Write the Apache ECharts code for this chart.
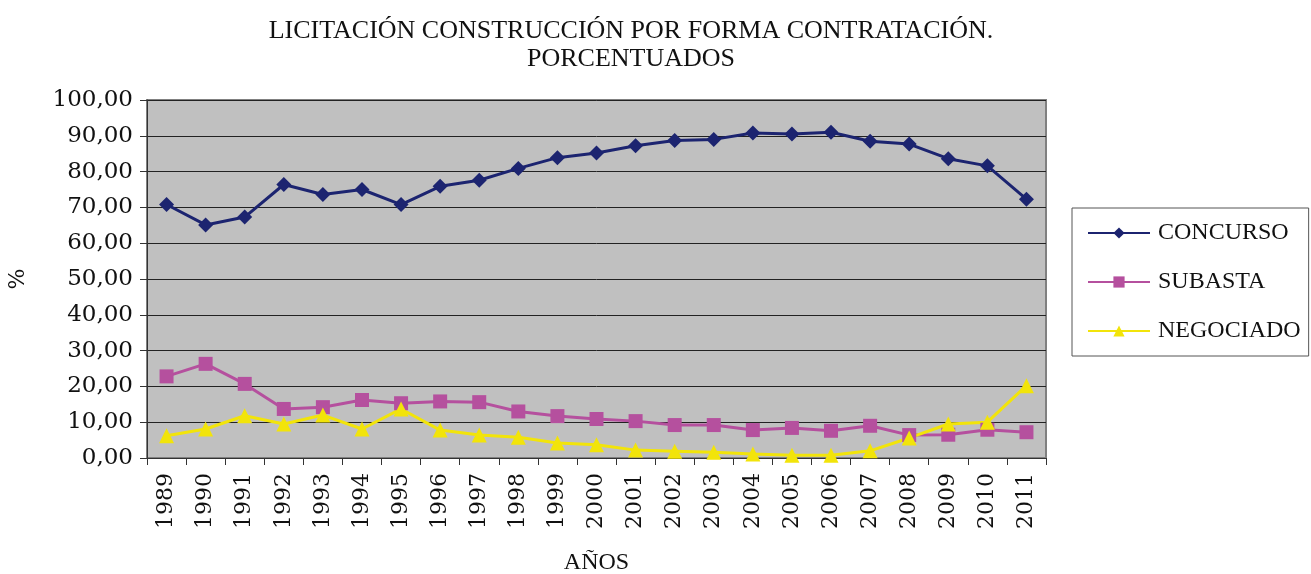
<!DOCTYPE html>
<html>
<head>
<meta charset="utf-8">
<script src="https://cdn.jsdelivr.net/npm/echarts@6/dist/echarts.min.js"></script>
<style>
  html, body { margin: 0; padding: 0; background: #fff; }
  #main { width: 1311px; height: 574px; }
</style>
</head>
<body>
<div id="main"></div>
<script>
var years = ['1989', '1990', '1991', '1992', '1993', '1994', '1995', '1996', '1997', '1998', '1999', '2000',
  '2001', '2002', '2003', '2004', '2005', '2006', '2007', '2008', '2009', '2010', '2011'];
var concurso = [70.8, 65.1, 67.3, 76.4, 73.6, 75.0, 70.8, 75.9, 77.6, 80.9, 83.9, 85.2,
  87.2, 88.7, 89.0, 90.8, 90.5, 91.0, 88.5, 87.7, 83.6, 81.6, 72.3];
var subasta = [22.8, 26.3, 20.7, 13.7, 14.2, 16.2, 15.3, 15.8, 15.6, 13.0, 11.7, 10.9,
  10.3, 9.2, 9.2, 7.8, 8.4, 7.6, 9.0, 6.4, 6.5, 7.9, 7.2];
var negociado = [6.2, 8.1, 11.8, 9.5, 12.0, 8.1, 13.7, 7.8, 6.4, 5.8, 4.2, 3.7,
  2.2, 1.9, 1.6, 1.1, 0.8, 0.8, 2.0, 5.6, 9.5, 10.0, 20.2];

var serif = '"Liberation Serif", "DejaVu Serif", serif';
var numFont = '"DejaVu Serif", serif';
var chart = echarts.init(document.getElementById('main'));

function lineSeries(name, data, color, symbol, size) {
  return {
    name: name,
    type: 'line',
    data: data,
    symbol: symbol,
    symbolSize: size,
    lineStyle: { color: color, width: 3 },
    itemStyle: { color: color },
    animation: false
  };
}

chart.setOption({
  backgroundColor: '#fff',
  title: {
    text: 'LICITACIÓN CONSTRUCCIÓN POR FORMA CONTRATACIÓN.\nPORCENTUADOS',
    left: 626,
    top: 12,
    textAlign: 'center',
    textStyle: { fontFamily: serif, fontSize: 26, fontWeight: 'normal', color: '#111', lineHeight: 28 }
  },
  legend: {
    orient: 'vertical',
    left: 1072,
    top: 208,
    padding: [13, 8, 13, 15],
    borderColor: '#555',
    borderWidth: 1,
    itemWidth: 62,
    itemHeight: 14,
    itemGap: 25,
    textStyle: { fontFamily: serif, fontSize: 24, color: '#111', padding: [0, 0, 0, 3] },
    data: ['CONCURSO', 'SUBASTA', 'NEGOCIADO']
  },
  grid: {
    left: 147,
    right: 265,
    top: 100,
    bottom: 116,
    outerBoundsMode: 'none',
    show: true,
    backgroundColor: '#c0c0c0',
    borderColor: '#808080',
    borderWidth: 2
  },
  xAxis: {
    type: 'category',
    data: years,
    boundaryGap: true,
    name: 'AÑOS',
    nameLocation: 'middle',
    nameGap: 93,
    nameTextStyle: { fontFamily: serif, fontSize: 24, color: '#111' },
    axisLine: { lineStyle: { color: '#333', width: 1 } },
    axisTick: { show: true, length: 7, lineStyle: { color: '#333' } },
    axisLabel: { rotate: 90, fontFamily: numFont, fontSize: 22, color: '#111', margin: 15 }
  },
  yAxis: {
    type: 'value',
    min: 0,
    max: 100,
    interval: 10,
    name: '%',
    nameLocation: 'middle',
    nameRotate: 90,
    nameGap: 118,
    nameTextStyle: { fontFamily: numFont, fontSize: 22, color: '#111' },
    axisLine: { show: true, lineStyle: { color: '#333', width: 1 } },
    axisTick: { show: true, length: 7, lineStyle: { color: '#333' } },
    axisLabel: {
      fontFamily: numFont, fontSize: 23, color: '#111', margin: 14,
      formatter: function (v) { return v.toFixed(2).replace('.', ','); }
    },
    splitLine: { show: true, lineStyle: { color: '#222', width: 1 } }
  },
  series: [
    lineSeries('CONCURSO', concurso, '#1c2470', 'diamond', 15),
    lineSeries('SUBASTA', subasta, '#b5509e', 'rect', 14),
    lineSeries('NEGOCIADO', negociado, '#f2e40a', 'triangle', 15)
  ]
});
</script>
</body>
</html>
